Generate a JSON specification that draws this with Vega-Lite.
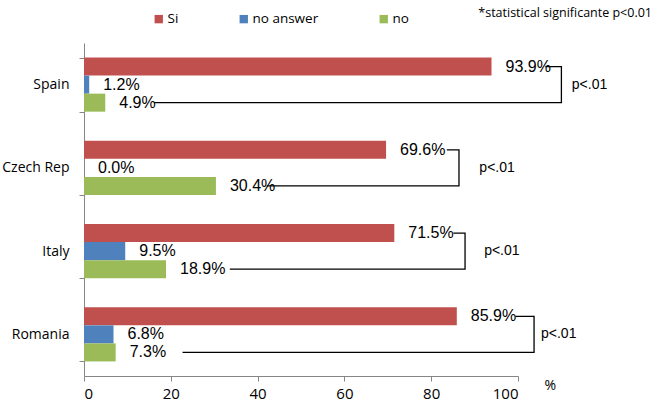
{
  "$schema": "https://vega.github.io/schema/vega-lite/v6.json",
  "width": 434,
  "height": 333,
  "autosize": {"type": "none"},
  "padding": {"left": 84, "top": 43, "right": 143, "bottom": 34},
  "background": "white",
  "title": {
    "text": "*statistical significante p<0.01",
    "anchor": "end",
    "frame": "group",
    "dx": 134,
    "dy": 7,
    "offset": 0,
    "font": "Open Sans",
    "fontSize": 12.5,
    "fontWeight": "normal",
    "color": "#000000"
  },
  "datasets": {
    "bars": [
      {"country": "Spain", "series": "Si", "value": 93.9},
      {"country": "Spain", "series": "no answer", "value": 1.2},
      {"country": "Spain", "series": "no", "value": 4.9},
      {"country": "Czech Rep", "series": "Si", "value": 69.6},
      {"country": "Czech Rep", "series": "no answer", "value": 0.0},
      {"country": "Czech Rep", "series": "no", "value": 30.4},
      {"country": "Italy", "series": "Si", "value": 71.5},
      {"country": "Italy", "series": "no answer", "value": 9.5},
      {"country": "Italy", "series": "no", "value": 18.9},
      {"country": "Romania", "series": "Si", "value": 85.9},
      {"country": "Romania", "series": "no answer", "value": 6.8},
      {"country": "Romania", "series": "no", "value": 7.3}
    ],
    "brackets": [
      {"country": "Spain", "series": "Si", "x": 106.3, "step": 1},
      {"country": "Spain", "series": "Si", "x": 110.0, "step": 2},
      {"country": "Spain", "series": "no", "x": 110.0, "step": 3},
      {"country": "Spain", "series": "no", "x": 16.1, "step": 4},
      {"country": "Czech Rep", "series": "Si", "x": 83.6, "step": 1},
      {"country": "Czech Rep", "series": "Si", "x": 86.4, "step": 2},
      {"country": "Czech Rep", "series": "no", "x": 86.4, "step": 3},
      {"country": "Czech Rep", "series": "no", "x": 42.1, "step": 4},
      {"country": "Italy", "series": "Si", "x": 85.1, "step": 1},
      {"country": "Italy", "series": "Si", "x": 87.8, "step": 2},
      {"country": "Italy", "series": "no", "x": 87.8, "step": 3},
      {"country": "Italy", "series": "no", "x": 33.6, "step": 4},
      {"country": "Romania", "series": "Si", "x": 99.4, "step": 1},
      {"country": "Romania", "series": "Si", "x": 103.7, "step": 2},
      {"country": "Romania", "series": "no", "x": 103.7, "step": 3},
      {"country": "Romania", "series": "no", "x": 22.7, "step": 4}
    ],
    "pvalues": [
      {"country": "Spain", "series": "no answer", "x": 112.4, "text": "p<.01"},
      {"country": "Czech Rep", "series": "no answer", "x": 91.1, "text": "p<.01"},
      {"country": "Italy", "series": "no answer", "x": 92.2, "text": "p<.01"},
      {"country": "Romania", "series": "no answer", "x": 105.3, "text": "p<.01"}
    ]
  },
  "layer": [
    {
      "data": {"name": "bars"},
      "mark": {"type": "bar", "cornerRadius": 0},
      "encoding": {
        "y": {"field": "country", "type": "nominal", "title": null,
              "scale": {"domain": ["Spain", "Czech Rep", "Italy", "Romania"], "paddingInner": 0.35, "paddingOuter": 0.175},
              "axis": {"tickBand": "extent", "labelFont": "Open Sans", "labelFontSize": 14, "labelColor": "#000000",
                       "labelPadding": 10, "domainColor": "#868686", "tickColor": "#868686", "tickSize": 5}},
        "yOffset": {"field": "series", "type": "nominal",
                    "scale": {"domain": ["Si", "no answer", "no"], "paddingInner": 0, "paddingOuter": 0}},
        "x": {"field": "value", "type": "quantitative", "title": "%",
              "scale": {"domain": [0, 100], "nice": false, "zero": true},
              "axis": {"values": [0, 20, 40, 60, 80, 100], "labelFont": "Open Sans", "labelFontSize": 15,
                       "labelColor": "#000000", "labelPadding": 5, "domainColor": "#868686",
                       "tickColor": "#868686", "tickSize": 5}},
        "color": {"field": "series", "type": "nominal", "title": null,
                  "scale": {"domain": ["Si", "no answer", "no"], "range": ["#C0504D", "#4F81BD", "#9BBB59"]},
                  "legend": {"orient": "none", "direction": "horizontal", "legendX": 68, "legendY": -31,
                             "symbolType": "square", "symbolSize": 70, "symbolStrokeWidth": 0,
                             "labelOffset": 2, "columnPadding": 58, "labelFont": "Open Sans",
                             "labelFontSize": 13.5, "labelColor": "#000000"}}
      }
    },
    {
      "data": {"name": "bars"},
      "transform": [{"calculate": "format(datum.value, '.1f') + '%'", "as": "label"}],
      "mark": {"type": "text", "align": "left", "baseline": "middle", "dx": 14,
               "font": "Liberation Sans", "fontSize": 16, "color": "#000000"},
      "encoding": {
        "y": {"field": "country", "type": "nominal", "title": null,
              "scale": {"domain": ["Spain", "Czech Rep", "Italy", "Romania"]}},
        "yOffset": {"field": "series", "type": "nominal", "scale": {"domain": ["Si", "no answer", "no"]}},
        "x": {"field": "value", "type": "quantitative", "title": "%"},
        "text": {"field": "label", "type": "nominal"}
      }
    },
    {
      "data": {"name": "brackets"},
      "mark": {"type": "line", "color": "#000000", "strokeWidth": 1.3, "clip": false, "interpolate": "linear"},
      "encoding": {
        "y": {"field": "country", "type": "nominal", "title": null,
              "scale": {"domain": ["Spain", "Czech Rep", "Italy", "Romania"]}},
        "yOffset": {"field": "series", "type": "nominal", "scale": {"domain": ["Si", "no answer", "no"]}},
        "x": {"field": "x", "type": "quantitative", "title": "%"},
        "detail": {"field": "country", "type": "nominal"},
        "order": {"field": "step", "type": "quantitative"}
      }
    },
    {
      "data": {"name": "pvalues"},
      "mark": {"type": "text", "align": "left", "baseline": "middle",
               "font": "Liberation Sans", "fontSize": 14, "color": "#000000"},
      "encoding": {
        "y": {"field": "country", "type": "nominal", "title": null,
              "scale": {"domain": ["Spain", "Czech Rep", "Italy", "Romania"]}},
        "yOffset": {"field": "series", "type": "nominal", "scale": {"domain": ["Si", "no answer", "no"]}},
        "x": {"field": "x", "type": "quantitative", "title": "%"},
        "text": {"field": "text", "type": "nominal"}
      }
    }
  ],
  "config": {
    "view": {"stroke": null},
    "axisX": {
      "grid": false,
      "titleFont": "Open Sans",
      "titleFontSize": 14,
      "titleFontWeight": "normal",
      "titleColor": "#000000",
      "titleX": 460,
      "titleY": 9,
      "titleAlign": "left",
      "titleAnchor": null,
      "titleBaseline": "middle"
    },
    "axisY": {
      "grid": false
    }
  }
}
